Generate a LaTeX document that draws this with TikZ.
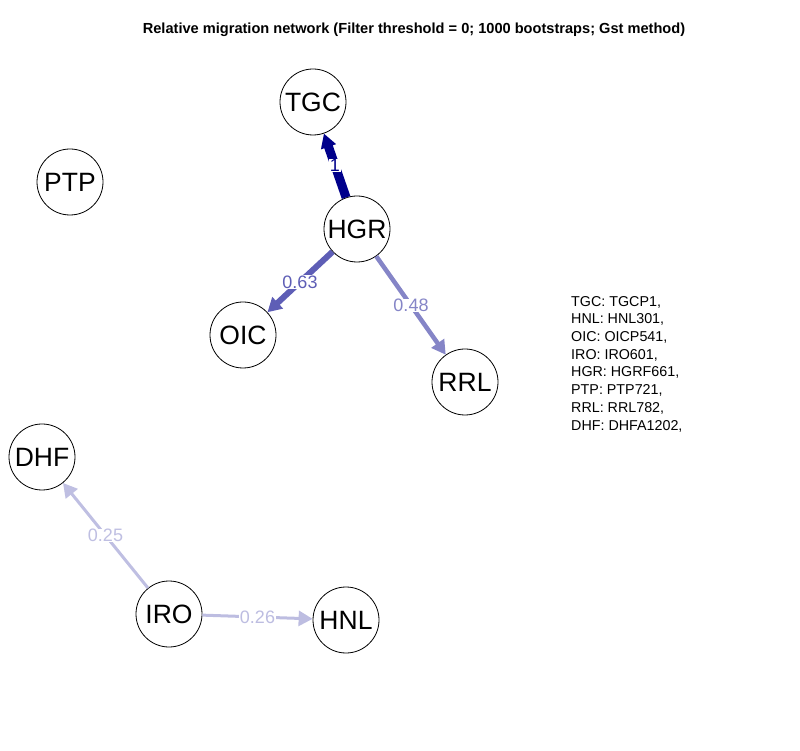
\documentclass[tikz,border=0pt]{standalone}
\usepackage{fontspec}
\setmainfont{Liberation Sans}
\usetikzlibrary{arrows.meta}
\definecolor{darkblue}{RGB}{0,0,139}
\begin{document}
\begin{tikzpicture}[x=1pt,y=1pt,
  site/.style={draw=black,fill=white,circle,line width=0.8pt,minimum size=66pt,inner sep=0pt,font=\fontsize{26.5}{26.5}\selectfont},
  mig/.style={line width=#1,-{Triangle[length=14pt,width=15pt]}},
  wt/.style={fill=white,inner sep=0.5pt,font=\fontsize{18}{18}\selectfont}]
\useasboundingbox (0,0) rectangle (800,750);
% Titre
\node[font=\bfseries\fontsize{14.6}{14.6}\selectfont] (titre) at (414,720) {Relative migration network (Filter threshold = 0; 1000 bootstraps; Gst method)};
% Sites
\node[site] (TGC) at (313,648) {TGC};
\node[site] (PTP) at (70,568) {PTP};
\node[site] (HGR) at (357,521) {HGR};
\node[site] (OIC) at (243,415) {OIC};
\node[site] (RRL) at (465,368) {RRL};
\node[site] (DHF) at (42,293) {DHF};
\node[site] (IRO) at (169,136) {IRO};
\node[site] (HNL) at (346,130) {HNL};
% Flux depuis HGR
\draw[mig=9pt,darkblue] (HGR) -- (TGC) node[wt,text=darkblue,midway] {1};
\draw[mig=6pt,darkblue!63!white] (HGR) -- (OIC) node[wt,text=darkblue!63!white,midway] {0.63};
\draw[mig=4.5pt,darkblue!48!white] (HGR) -- (RRL) node[wt,text=darkblue!48!white,midway] {0.48};
% Flux depuis IRO
\draw[mig=3pt,darkblue!25!white] (IRO) -- (DHF) node[wt,text=darkblue!25!white,midway] {0.25};
\draw[mig=3pt,darkblue!26!white] (IRO) -- (HNL) node[wt,text=darkblue!26!white,midway] {0.26};
% Legende
\node[anchor=north west,align=left,inner sep=0pt,font=\fontsize{14.3}{17.7}\selectfont] (legende) at (571,454)
  {TGC: TGCP1,\\HNL: HNL301,\\OIC: OICP541,\\IRO: IRO601,\\HGR: HGRF661,\\PTP: PTP721,\\RRL: RRL782,\\DHF: DHFA1202,};
\end{tikzpicture}
\end{document}
